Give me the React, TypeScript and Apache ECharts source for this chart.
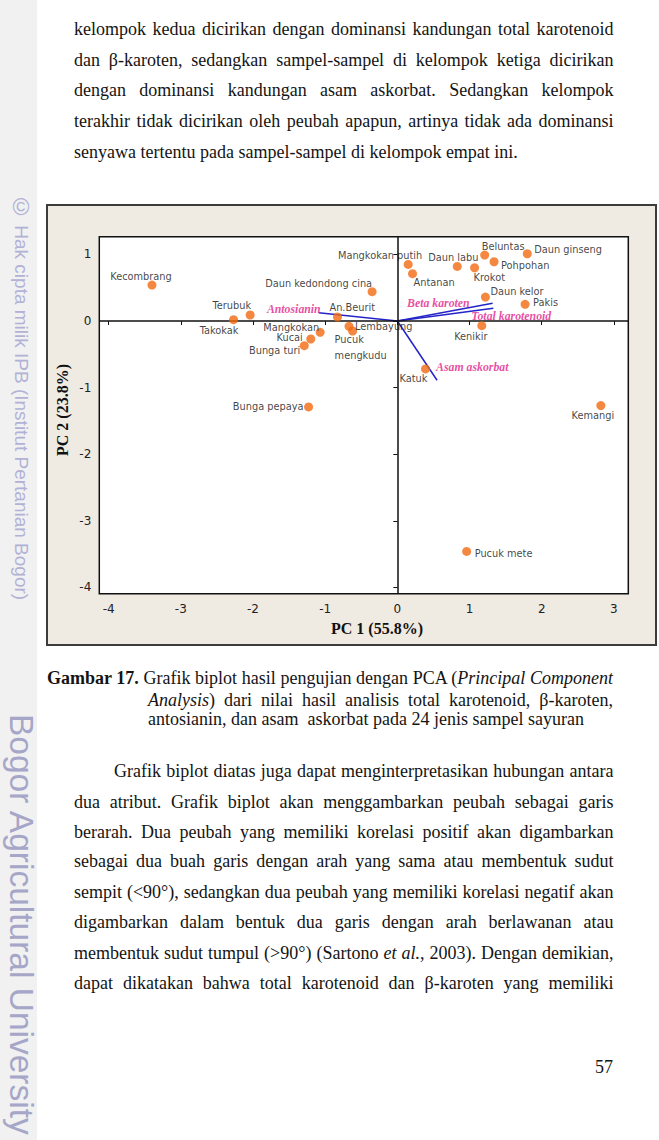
import React, { useEffect, useRef } from "react";
import * as echarts from "echarts";

// ---------- DATA ----------
const sampleNames = [
  "Kecombrang", "Takokak", "Terubuk", "An.Beurit", "Mangkokan", "Kucai",
  "Bunga turi", "Lembayung", "Pucuk mengkudu", "Daun kedondong cina",
  "Mangkokan putih", "Antanan", "Daun labu", "Krokot", "Beluntas", "Pohpohan",
  "Daun ginseng", "Daun kelor", "Pakis", "Kenikir", "Katuk", "Bunga pepaya",
  "Kemangi", "Pucuk mete",
];
const pc1Scores = [
  -3.40, -2.27, -2.04, -0.83, -1.07, -1.20,
  -1.29, -0.67, -0.62, -0.35,
  0.15, 0.21, 0.83, 1.07, 1.21, 1.34,
  1.80, 1.22, 1.77, 1.17, 0.39, -1.23,
  2.82, 0.96,
];
const pc2Scores = [
  0.54, 0.02, 0.09, 0.06, -0.17, -0.27,
  -0.37, -0.08, -0.15, 0.44,
  0.85, 0.71, 0.82, 0.80, 0.99, 0.89,
  1.01, 0.36, 0.25, -0.07, -0.72, -1.29,
  -1.27, -3.46,
];

const variableNames = ["Antosianin", "Beta karoten", "Total karotenoid", "Asam askorbat"];
const pc1Loadings = [-1.09, 1.32, 1.33, 0.55];
const pc2Loadings = [0.125, 0.266, 0.19, -0.89];

const xTicks = [-4, -3, -2, -1, 0, 1, 2, 3];
const yTicks = [-4, -3, -2, -1, 0, 1];
const xTitle = "PC 1 (55.8%)";
const yTitle = "PC 2 (23.8%)";

// ---------- STYLES / LAYOUT ----------
const displayName: Record<string, string> = { "Pucuk mengkudu": "Pucuk\nmengkudu" };
type Align = "left" | "right" | "center";
const sampleLabelLayout: Record<string, [number, number, Align]> = {
  Kecombrang: [-11, -9, "center"],
  Takokak: [5, 11, "right"],
  Terubuk: [1, -10, "right"],
  "An.Beurit": [-8, -10, "left"],
  Mangkokan: [-1, -5, "right"],
  Kucai: [-8, -1, "right"],
  "Bunga turi": [-4, 5, "right"],
  Lembayung: [6, 0, "left"],
  "Pucuk mengkudu": [-18, 17, "left"],
  "Daun kedondong cina": [0, -8, "right"],
  "Mangkokan putih": [14, -9, "right"],
  Antanan: [1, 9, "left"],
  "Daun labu": [-4, -9, "center"],
  Krokot: [-1, 10, "left"],
  Beluntas: [-3, -9, "left"],
  Pohpohan: [7, 4, "left"],
  "Daun ginseng": [7, -4, "left"],
  "Daun kelor": [5, -6, "left"],
  Pakis: [8, -2, "left"],
  Kenikir: [-11, 11, "center"],
  Katuk: [2, 10, "right"],
  "Bunga pepaya": [-5, 0, "right"],
  Kemangi: [-8, 10, "center"],
  "Pucuk mete": [8, 2, "left"],
};
const variableLabelLayout: Record<string, [number, number, Align]> = {
  Antosianin: [2, -4, "right"],
  "Beta karoten": [-23, 0, "right"],
  "Total karotenoid": [-22, 8, "left"],
  "Asam askorbat": [-1, -13, "left"],
};

const SERIF = '"Liberation Serif", "Times New Roman", serif';
const SANS = '"DejaVu Sans", Verdana, sans-serif';

function buildOption(): any {
  const scatterData = sampleNames.map((n, i) => {
    const [dx, dy, align] = sampleLabelLayout[n];
    return {
      name: n,
      value: [pc1Scores[i], pc2Scores[i]],
      label: {
        show: true,
        position: "inside",
        offset: [dx, dy],
        align,
        verticalAlign: "middle",
        formatter: displayName[n] ?? n,
        fontFamily: SANS,
        fontSize: 9.8,
        lineHeight: 16,
        color: "#111",
      },
    };
  });

  const vectorSeries = variableNames.map((v, i) => ({
    type: "line",
    name: v,
    data: [[0, 0], [pc1Loadings[i], pc2Loadings[i]]],
    symbol: "none",
    silent: true,
    z: 3,
    lineStyle: { color: "#2424c8", width: 1.5 },
  }));

  const vectorLabelData = variableNames.map((v, i) => {
    const [dx, dy, align] = variableLabelLayout[v];
    return {
      name: v,
      value: [pc1Loadings[i], pc2Loadings[i]],
      label: {
        show: true,
        position: "inside",
        offset: [dx, dy],
        align,
        verticalAlign: "middle",
        formatter: v,
        fontFamily: SERIF,
        fontStyle: "italic",
        fontWeight: "bold",
        fontSize: 11.8,
        color: "#e2208a",
      },
    };
  });

  const tickCommon = { show: true, inside: false, length: 4, lineStyle: { color: "#111", width: 1 } };

  return {
    animation: false,
    grid: {
      left: 51.3,
      right: 26.7,
      top: 30.7,
      bottom: 50.3,
      show: true,
      backgroundColor: "#ffffff",
      borderColor: "#111",
      borderWidth: 1.5,
    },
    xAxis: {
      type: "value",
      min: -4.13,
      max: 3.2,
      splitLine: { show: false },
      axisLine: { show: false },
      axisTick: { ...tickCommon, customValues: xTicks },
      axisLabel: {
        customValues: xTicks,
        margin: 9,
        fontFamily: SANS,
        fontSize: 12,
        color: "#222",
        formatter: (v: number) => (Number.isInteger(v) ? String(v) : ""),
      },
    },
    yAxis: {
      type: "value",
      min: -4.095,
      max: 1.266,
      splitLine: { show: false },
      axisLine: { show: false },
      axisTick: { ...tickCommon, customValues: yTicks },
      axisLabel: {
        customValues: yTicks,
        margin: 8,
        fontFamily: SANS,
        fontSize: 12,
        color: "#222",
        formatter: (v: number) => (Number.isInteger(v) ? String(v) : ""),
      },
    },
    graphic: [
      {
        type: "text",
        x: 329,
        y: 422.3,
        silent: true,
        style: {
          text: xTitle,
          align: "center",
          verticalAlign: "middle",
          font: `bold 16px ${SERIF}`,
          fill: "#111",
        },
      },
      {
        type: "text",
        x: 14,
        y: 204,
        rotation: Math.PI / 2,
        silent: true,
        style: {
          text: yTitle,
          align: "center",
          verticalAlign: "middle",
          font: `bold 16px ${SERIF}`,
          fill: "#111",
        },
      },
    ],
    series: [
      {
        type: "scatter",
        name: "zero-lines",
        data: [],
        silent: true,
        z: 1,
        markLine: {
          silent: true,
          symbol: ["none", "none"],
          label: { show: false },
          lineStyle: { color: "#111", width: 1.5, type: "solid" },
          data: [{ xAxis: 0 }, { yAxis: 0 }],
        },
      },
      ...vectorSeries,
      {
        type: "scatter",
        name: "variable-labels",
        data: vectorLabelData,
        symbolSize: 1,
        silent: true,
        z: 4,
        itemStyle: { color: "rgba(0,0,0,0)" },
      },
      {
        type: "scatter",
        name: "samples",
        data: scatterData,
        symbolSize: 9,
        silent: true,
        z: 5,
        itemStyle: { color: "#f36a12" },
      },
    ],
  };
}

// ---------- PAGE TEXT ----------
const textBase: React.CSSProperties = {
  position: "absolute",
  fontFamily: SERIF,
  fontSize: 18,
  lineHeight: "20px",
  color: "#141414",
  whiteSpace: "nowrap",
};

function TLine(props: { top: number; left: number; width: number; justify?: boolean; children: React.ReactNode }) {
  const j = props.justify !== false;
  return (
    <div
      style={{
        ...textBase,
        top: props.top,
        left: props.left,
        width: props.width,
        textAlign: j ? "justify" : "left",
        textAlignLast: j ? "justify" : "left",
      } as React.CSSProperties}
    >
      {props.children}
    </div>
  );
}

export default function App() {
  const ref = useRef<HTMLDivElement>(null);
  useEffect(() => {
    if (!ref.current) return;
    const chart = echarts.init(ref.current, null, { renderer: "svg" });
    chart.setOption(buildOption());
    return () => chart.dispose();
  }, []);

  const L = 74;
  const W = 539.5;

  return (
    <div style={{ position: "absolute", left: 0, top: 0, width: 659, height: 1140, background: "#ffffff", overflow: "hidden" }}>
      {/* watermark strip */}
      <div style={{ position: "absolute", left: 0, top: 0, width: 37, height: 1140, background: "#f1f1f1" }} />
      <div
        style={{
          position: "absolute",
          left: 8,
          top: 194,
          lineHeight: "26px",
          writingMode: "vertical-rl",
          fontFamily: '"Liberation Sans", Arial, sans-serif',
          fontSize: 19,
          color: "#b2b2d6",
          whiteSpace: "nowrap",
        } as React.CSSProperties}
      >
        <span style={{ fontSize: 23 }}>©</span> Hak cipta milik IPB (Institut Pertanian Bogor)
      </div>
      <div
        style={{
          position: "absolute",
          left: 2,
          top: 714,
          lineHeight: "38px",
          writingMode: "vertical-rl",
          fontFamily: '"Liberation Sans", Arial, sans-serif',
          fontSize: 33.5,
          color: "#a6a6c8",
          whiteSpace: "nowrap",
        } as React.CSSProperties}
      >
        Bogor Agricultural University
      </div>

      {/* paragraph 1 */}
      <TLine top={19} left={L} width={W}>kelompok kedua dicirikan dengan dominansi kandungan total karotenoid</TLine>
      <TLine top={49.7} left={L} width={W}>dan β-karoten, sedangkan sampel-sampel di kelompok ketiga dicirikan</TLine>
      <TLine top={80} left={L} width={W}>dengan dominansi kandungan asam askorbat. Sedangkan kelompok</TLine>
      <TLine top={111} left={L} width={W}>terakhir tidak dicirikan oleh peubah apapun, artinya tidak ada dominansi</TLine>
      <TLine top={142} left={L} width={W} justify={false}>senyawa tertentu pada sampel-sampel di kelompok empat ini.</TLine>

      {/* chart panel */}
      <div
        style={{
          position: "absolute",
          left: 46,
          top: 204,
          width: 611,
          height: 442,
          boxSizing: "border-box",
          border: "2px solid #3c3c3c",
          background: "#efebe3",
        }}
      >
        <div ref={ref} style={{ width: 607, height: 438 }} />
      </div>

      {/* caption */}
      <TLine top={668} left={47} width={566}>
        <b>Gambar 17.</b> Grafik biplot hasil pengujian dengan PCA (<i>Principal Component</i>
      </TLine>
      <TLine top={689.7} left={148} width={465}>
        <i>Analysis</i>) dari nilai hasil analisis total karotenoid, β-karoten,
      </TLine>
      <TLine top={709} left={148} width={465} justify={false}>
        antosianin, dan asam&nbsp; askorbat pada 24 jenis sampel sayuran
      </TLine>

      {/* paragraph 2 */}
      <TLine top={761.3} left={114} width={499.5}>Grafik biplot diatas juga dapat menginterpretasikan hubungan antara</TLine>
      <TLine top={791.7} left={L} width={W}>dua atribut. Grafik biplot akan menggambarkan peubah sebagai garis</TLine>
      <TLine top={821.7} left={L} width={W}>berarah. Dua peubah yang memiliki korelasi positif akan digambarkan</TLine>
      <TLine top={851.3} left={L} width={W}>sebagai dua buah garis dengan arah yang sama atau membentuk sudut</TLine>
      <TLine top={882.3} left={L} width={W}>sempit (&lt;90°), sedangkan dua peubah yang memiliki korelasi negatif akan</TLine>
      <TLine top={912.3} left={L} width={W}>digambarkan dalam bentuk dua garis dengan arah berlawanan atau</TLine>
      <TLine top={943} left={L} width={W}>
        membentuk sudut tumpul (&gt;90°) (Sartono <i>et al.</i>, 2003). Dengan demikian,
      </TLine>
      <TLine top={973} left={L} width={W}>dapat dikatakan bahwa total karotenoid dan β-karoten yang memiliki</TLine>

      {/* page number */}
      <div style={{ ...textBase, top: 1057.3, left: 513, width: 100, textAlign: "right" }}>57</div>
    </div>
  );
}
